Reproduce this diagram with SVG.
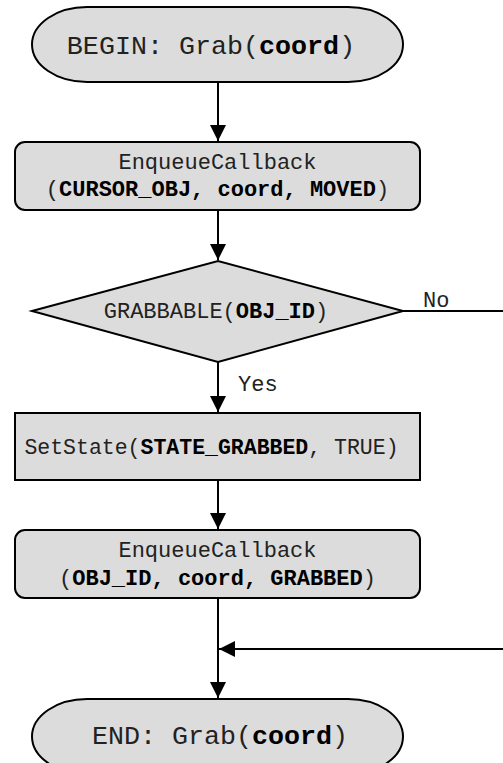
<svg xmlns="http://www.w3.org/2000/svg" width="503" height="763" viewBox="0 0 503 763">
  <style>
    .shape { fill: #dcdcdc; stroke: #000; stroke-width: 2; }
    .edge { fill: none; stroke: #000; stroke-width: 2; }
    text { font-family: "Liberation Mono", "Courier New", monospace; fill: #222; }
    .term { font-size: 26.7px; }
    .box { font-size: 22px; }
    .lbl { font-size: 22px; }
    .b { font-weight: bold; fill: #000; }
  </style>
  <defs>
    <marker id="arrow" markerUnits="userSpaceOnUse" markerWidth="18" markerHeight="18" viewBox="0 0 18 18" refX="17" refY="9" orient="auto">
      <path d="M1,1 L17,9 L1,17 Z" fill="#000"/>
    </marker>
  </defs>

  <g id="connectors">
    <line class="edge" x1="218" y1="82" x2="218" y2="141" marker-end="url(#arrow)"/>
    <line class="edge" x1="218" y1="210" x2="218" y2="260" marker-end="url(#arrow)"/>
    <line class="edge" x1="218" y1="362" x2="218" y2="412" marker-end="url(#arrow)"/>
    <line class="edge" x1="218" y1="480" x2="218" y2="529" marker-end="url(#arrow)"/>
    <line class="edge" x1="218" y1="598" x2="218" y2="698" marker-end="url(#arrow)"/>
    <line class="edge" x1="403" y1="311" x2="503" y2="311"/>
    <line class="edge" x1="503" y1="649" x2="219" y2="649" marker-end="url(#arrow)"/>
    <text class="lbl" x="423" y="307">No</text>
    <text class="lbl" x="238" y="391">Yes</text>
  </g>

  <g id="begin">
    <rect class="shape" x="32" y="7" width="371" height="75" rx="55" ry="37.5"/>
    <text class="term" x="211" y="54" text-anchor="middle">BEGIN: Grab(<tspan class="b">coord</tspan>)</text>
  </g>

  <g id="enqueue-moved">
    <rect class="shape" x="15" y="142" width="405" height="68" rx="10" ry="10"/>
    <text class="box" x="217.5" y="169" text-anchor="middle">EnqueueCallback</text>
    <text class="box" x="217.5" y="196" text-anchor="middle">(<tspan class="b">CURSOR_OBJ, coord, MOVED</tspan>)</text>
  </g>

  <g id="grabbable">
    <polygon class="shape" points="32,311 218,261 403,311 218,362"/>
    <text class="box" x="216" y="318" text-anchor="middle">GRABBABLE(<tspan class="b">OBJ_ID</tspan>)</text>
  </g>

  <g id="set-state">
    <rect class="shape" x="15" y="413" width="405" height="67"/>
    <text class="box" x="211.5" y="454" text-anchor="middle" style="font-size:21.5px">SetState(<tspan class="b">STATE_GRABBED</tspan>, TRUE)</text>
  </g>

  <g id="enqueue-grabbed">
    <rect class="shape" x="15" y="530" width="405" height="68" rx="10" ry="10"/>
    <text class="box" x="217.5" y="557" text-anchor="middle">EnqueueCallback</text>
    <text class="box" x="217.5" y="585" text-anchor="middle">(<tspan class="b">OBJ_ID, coord, GRABBED</tspan>)</text>
  </g>

  <g id="end">
    <rect class="shape" x="32" y="699" width="371" height="75" rx="55" ry="37.5"/>
    <text class="term" x="220" y="744" text-anchor="middle">END: Grab(<tspan class="b">coord</tspan>)</text>
  </g>
</svg>
